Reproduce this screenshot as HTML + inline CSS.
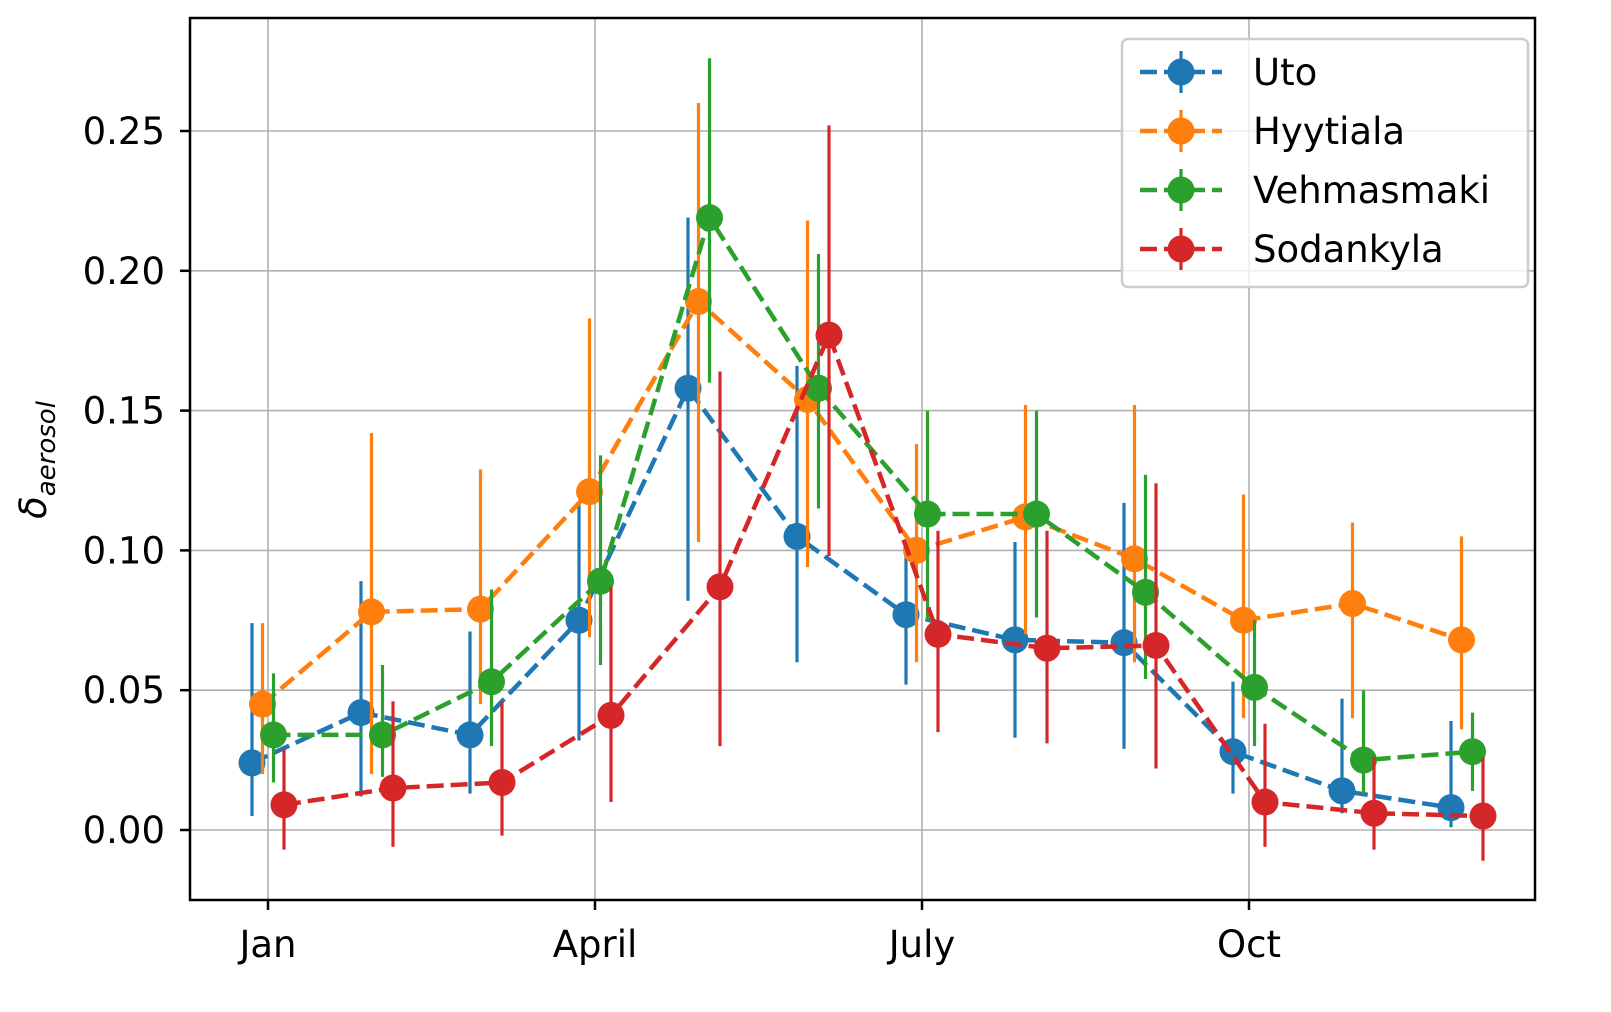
<!DOCTYPE html>
<html><head><meta charset="utf-8"><style>
body{margin:0;background:#fff}
svg{display:block;font-family:"DejaVu Sans","Liberation Sans",sans-serif}
</style></head><body>
<svg id="chart" width="1611" height="1012" xmlns="http://www.w3.org/2000/svg">
<g id="grid"></g>
<g id="series"></g>
<rect x="190" y="18" width="1345" height="882" fill="none" stroke="#000" stroke-width="2.5"/>
<g id="ticks"></g>
<text transform="translate(46,460) rotate(-90)" text-anchor="middle" font-size="37" font-style="italic">δ<tspan font-size="26" dy="9">aerosol</tspan></text>
<g>
<rect x="1122" y="39" width="406" height="248" rx="6" fill="#fff" fill-opacity="0.8" stroke="#ccc" stroke-width="2.5"/>
<g id="legend-items"></g>
</g>
</svg>
<script>
const months=[1,2,3,4,5,6,7,8,9,10,11,12];
const xTickLabels=["Jan","April","July","Oct"];
const xTickMonths=[1,4,7,10];
const yTicks=[0,0.05,0.10,0.15,0.20,0.25];
const names=["Uto","Hyytiala","Vehmasmaki","Sodankyla"];
const colors=["#1f77b4","#ff7f0e","#2ca02c","#d62728"];
const utoVal=[0.024,0.042,0.034,0.075,0.158,0.105,0.077,0.068,0.067,0.028,0.014,0.008];
const utoLo=[0.005,0.012,0.013,0.032,0.082,0.060,0.052,0.033,0.029,0.013,0.006,0.001];
const utoHi=[0.074,0.089,0.071,0.117,0.219,0.166,0.100,0.103,0.117,0.053,0.047,0.039];
const hyyVal=[0.045,0.078,0.079,0.121,0.189,0.154,0.100,0.112,0.097,0.075,0.081,0.068];
const hyyLo=[0.020,0.020,0.045,0.069,0.103,0.094,0.060,0.070,0.060,0.040,0.040,0.036];
const hyyHi=[0.074,0.142,0.129,0.183,0.260,0.218,0.138,0.152,0.152,0.120,0.110,0.105];
const vehVal=[0.034,0.034,0.053,0.089,0.219,0.158,0.113,0.113,0.085,0.051,0.025,0.028];
const vehLo=[0.017,0.019,0.030,0.059,0.160,0.115,0.075,0.076,0.054,0.030,0.013,0.014];
const vehHi=[0.056,0.059,0.086,0.134,0.276,0.206,0.150,0.150,0.127,0.075,0.050,0.042];
const sodVal=[0.009,0.015,0.017,0.041,0.087,0.177,0.070,0.065,0.066,0.010,0.006,0.005];
const sodLo=[-0.007,-0.006,-0.002,0.010,0.030,0.098,0.035,0.031,0.022,-0.006,-0.007,-0.011];
const sodHi=[0.029,0.046,0.046,0.087,0.164,0.252,0.107,0.107,0.124,0.038,0.026,0.026];
const vals=[utoVal,hyyVal,vehVal,sodVal],los=[utoLo,hyyLo,vehLo,sodLo],his=[utoHi,hyyHi,vehHi,sodHi];
const offsets=[-16,-5.5,5.5,16];
const NS="http://www.w3.org/2000/svg";
const X=m=>268+(m-1)*109;
const Y=v=>830-v*2796;
function mk(tag,attrs,parent){const e=document.createElementNS(NS,tag);for(const k in attrs)e.setAttribute(k,attrs[k]);parent.appendChild(e);return e;}
const grid=document.getElementById('grid'),ticks=document.getElementById('ticks'),ser=document.getElementById('series');
yTicks.forEach(t=>{
 const g=mk('line',{x1:190,x2:1535,y1:Y(t),y2:Y(t),stroke:'#b0b0b0','stroke-width':1.6},grid);
 
 mk('line',{x1:180,x2:190,y1:Y(t),y2:Y(t),stroke:'#000','stroke-width':2.5},ticks);
 const tx=mk('text',{x:165,y:Y(t)+13,'text-anchor':'end','font-size':37},ticks);tx.textContent=t.toFixed(2);
 
});
xTickMonths.forEach((m,i)=>{
 const g=mk('line',{x1:X(m),x2:X(m),y1:18,y2:900,stroke:'#b0b0b0','stroke-width':1.6},grid);
 
 mk('line',{x1:X(m),x2:X(m),y1:900,y2:910,stroke:'#000','stroke-width':2.5},ticks);
 const tx=mk('text',{x:X(m),y:957,'text-anchor':'middle','font-size':37},ticks);tx.textContent=xTickLabels[i];
 
});
vals.forEach((v,s)=>{
 const g=mk('g',{},ser);
 
 months.forEach((m,i)=>{
  const e=mk('line',{x1:X(m)+offsets[s],x2:X(m)+offsets[s],y1:Y(los[s][i]),y2:Y(his[s][i]),stroke:colors[s],'stroke-width':3.2},g);
  
 });
 const p=mk('polyline',{points:months.map((m,i)=>(X(m)+offsets[s])+','+Y(v[i])).join(' '),fill:'none',stroke:colors[s],'stroke-width':4.5,'stroke-dasharray':'17,7'},g);
 
 months.forEach((m,i)=>{
  const c=mk('circle',{cx:X(m)+offsets[s],cy:Y(v[i]),r:13.5,fill:colors[s]},g);
  
 });
});
const li=document.getElementById('legend-items');
names.forEach((n,s)=>{
 const y=72+s*59;
 const g=mk('g',{},li);
 
 mk('line',{x1:1140,x2:1222,y1:y,y2:y,stroke:colors[s],'stroke-width':4.5,'stroke-dasharray':'17,7'},g);
 mk('line',{x1:1181,x2:1181,y1:y-21,y2:y+21,stroke:colors[s],'stroke-width':3.2},g);
 mk('circle',{cx:1181,cy:y,r:13.5,fill:colors[s]},g);
 const t=mk('text',{x:1253,y:y+13,'font-size':37},g);t.textContent=n;
});
</script>
</body></html>
